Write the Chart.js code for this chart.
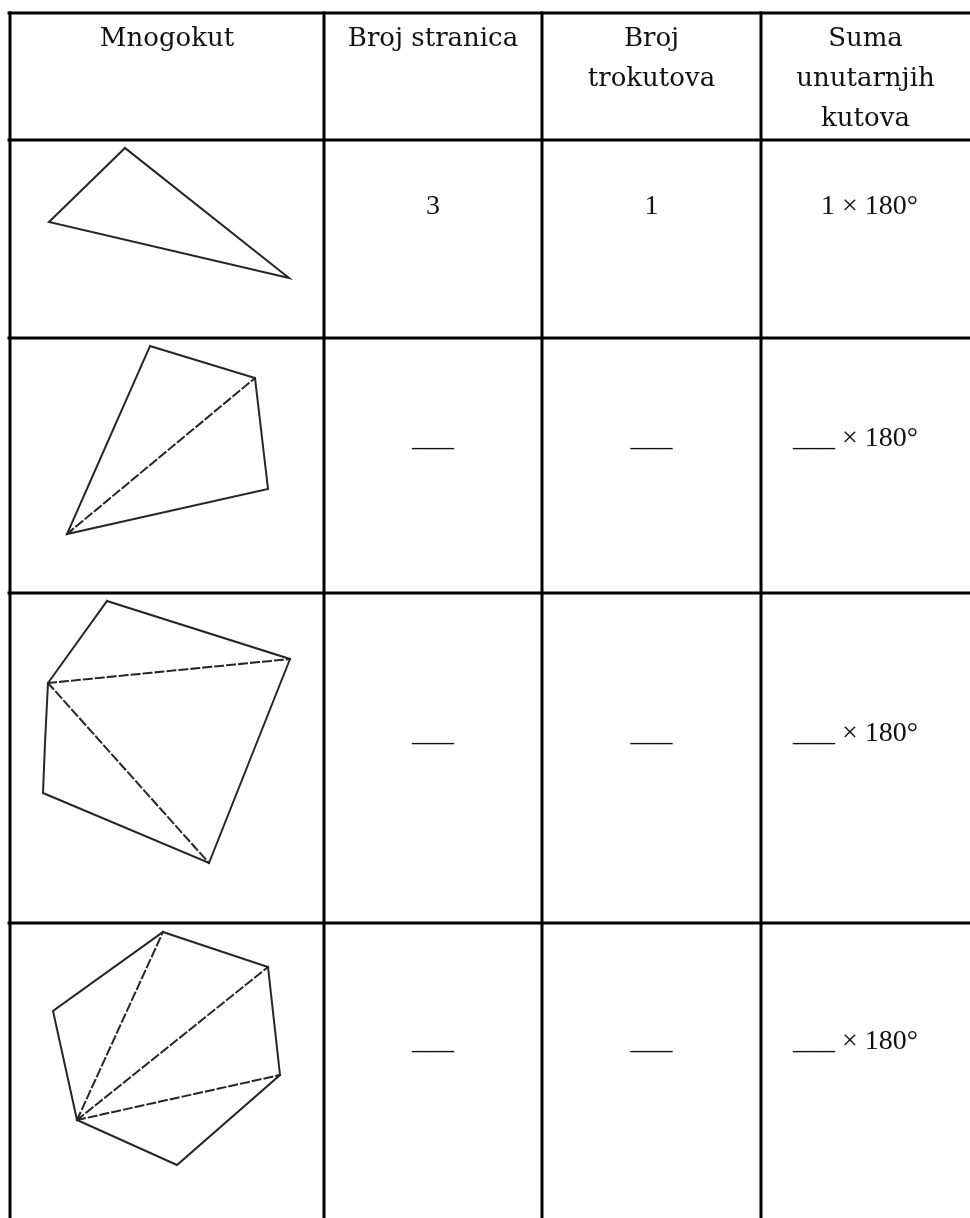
<!DOCTYPE html>
<html>
<head>
<meta charset="utf-8">
<script src="https://cdn.jsdelivr.net/npm/chart.js@4/dist/chart.umd.min.js"></script>
<style>
    html, body { margin: 0; padding: 0; background: #fff; }
    #wrap { width: 970px; height: 1218px; }
</style>
</head>
<body>
<div id="wrap"><canvas id="table" width="970" height="1218"></canvas></div>
<script>
"use strict";

/**----------------------------------------------------------------------
 * [Table data]
 *--------------------------------------------------------------*/
const headers = [
    ['Mnogokut'],
    ['Broj stranica'],
    ['Broj', 'trokutova'],
    ['Suma', 'unutarnjih', 'kutova']
];
const sides = ['3', '___', '___', '___'];
const triangles = ['1', '___', '___', '___'];
const angleSums = ['1 × 180°', '___ × 180°', '___ × 180°', '___ × 180°'];

/**----------------------------------------------------------------------
 * [Polygon vertices and the diagonals from one vertex]
 *--------------------------------------------------------------*/
const polygons = [
    [[125, 148], [49, 222], [289, 278]],
    [[150, 346], [255, 378], [268, 489], [67, 534]],
    [[107, 601], [290, 659], [209, 863], [43, 793], [45, 743], [48, 683]],
    [[163, 932], [268, 967], [280, 1075], [177, 1165], [77, 1120], [53, 1011]]
];
const diagonals = [
    [],
    [[[67, 534], [255, 378]]],
    [[[48, 683], [290, 659]], [[48, 683], [209, 863]]],
    [[[77, 1120], [163, 932]], [[77, 1120], [268, 967]], [[77, 1120], [280, 1075]]]
];

/**----------------------------------------------------------------------
 * [Layout of the grid]
 *--------------------------------------------------------------*/
const colEdges = [10, 324, 542, 761, 970];
const rowEdges = [13, 140, 338, 593, 923, 1218];
const headerBaselines = [46, 86, 126];
const rowBaselines = [214, 446, 741, 1049];
const sumRight = 918;

const pts = function(list) {
    return list.map(p => ({x: p[0], y: p[1]}));
};

const lineSet = function(points, width, color, dash) {
    return {
        data: pts(points),
        showLine: true,
        fill: false,
        tension: 0,
        pointRadius: 0,
        borderWidth: width,
        borderColor: color,
        borderDash: dash || [],
        borderCapStyle: 'square'
    };
};

let datasets = [];

// grid lines
for (let i = 0; i < rowEdges.length - 1; i++) {
    datasets.push(lineSet([[colEdges[0] - 1, rowEdges[i]], [colEdges[colEdges.length - 1], rowEdges[i]]], 3, '#000'));
}
for (let i = 0; i < colEdges.length - 1; i++) {
    datasets.push(lineSet([[colEdges[i], rowEdges[0]], [colEdges[i], rowEdges[rowEdges.length - 1]]], 3, '#000'));
}

// polygons
polygons.forEach(function(poly, i) {
    datasets.push(lineSet(poly.concat([poly[0]]), 2, '#262626'));
    diagonals[i].forEach(function(d) {
        datasets.push(lineSet(d, 2, '#262626', [8, 4]));
    });
});

/**----------------------------------------------------------------------
 * [Plugin that writes the cell texts through the scales]
 *--------------------------------------------------------------*/
const tableText = {
    id: 'tableText',
    afterDatasetsDraw(chart) {
        const ctx = chart.ctx;
        const x = chart.scales.x;
        const y = chart.scales.y;
        ctx.save();
        ctx.fillStyle = '#111';
        ctx.textBaseline = 'alphabetic';

        ctx.font = '26px "DejaVu Serif"';
        ctx.textAlign = 'center';
        headers.forEach(function(lines, c) {
            const cx = x.getPixelForValue((colEdges[c] + colEdges[c + 1]) / 2);
            lines.forEach(function(t, j) {
                ctx.fillText(t, cx, y.getPixelForValue(headerBaselines[j]));
            });
        });

        ctx.font = '28px "Liberation Serif"';
        for (let r = 0; r < rowBaselines.length; r++) {
            const by = y.getPixelForValue(rowBaselines[r]);
            ctx.textAlign = 'center';
            ctx.fillText(sides[r], x.getPixelForValue((colEdges[1] + colEdges[2]) / 2), by);
            ctx.fillText(triangles[r], x.getPixelForValue((colEdges[2] + colEdges[3]) / 2), by);
            ctx.textAlign = 'right';
            ctx.fillText(angleSums[r], x.getPixelForValue(sumRight), by);
        }
        ctx.restore();
    }
};

new Chart(document.getElementById('table').getContext('2d'), {
    type: 'scatter',
    data: { datasets: datasets },
    options: {
        responsive: false,
        animation: false,
        layout: { padding: 0 },
        plugins: {
            legend: { display: false },
            tooltip: { enabled: false }
        },
        scales: {
            x: { type: 'linear', min: 0, max: 970, display: false },
            y: { type: 'linear', min: 0, max: 1218, reverse: true, display: false }
        }
    },
    plugins: [tableText]
});
</script>
</body>
</html>
